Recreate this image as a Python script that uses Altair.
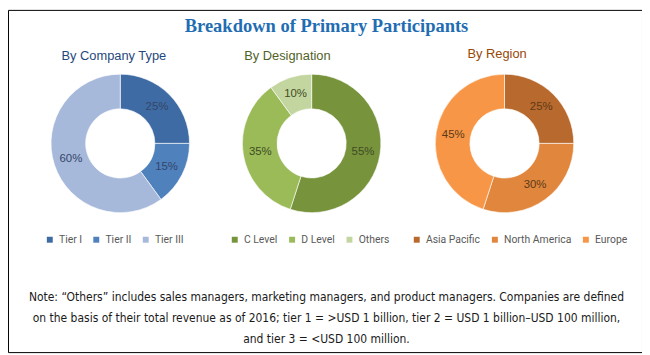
import altair as alt
import pandas as pd

# ---- data ----
title_text = "Breakdown of Primary Participants"

company_title = "By Company Type"
company_labels = ["Tier I", "Tier II", "Tier III"]
company_values = [25, 15, 60]
company_colors = ["#3E6BA3", "#4F81BD", "#A7B9DA"]

designation_title = "By Designation"
designation_labels = ["C Level", "D Level", "Others"]
designation_values = [55, 35, 10]
designation_colors = ["#77933C", "#9BBB59", "#C4D69F"]

region_title = "By Region"
region_labels = ["Asia Pacific", "North America", "Europe"]
region_values = [25, 30, 45]
region_colors = ["#B8692E", "#E0873D", "#F79646"]

note_lines = [
    "Note: \u201cOthers\u201d includes sales managers, marketing managers, and product managers. Companies are defined",
    "on the basis of their total revenue as of 2016; tier 1 = >USD 1 billion, tier 2 = USD 1 billion\u2013USD 100 million,",
    "and tier 3 = <USD 100 million.",
]

W, H = 641, 346
FONT = "Liberation Sans"


def donut(labels, values, colors, field, cx, cy, label_color, lx, ly):
    df = pd.DataFrame({
        field: labels,
        "value": values,
        "order": list(range(len(labels))),
        "pct": [f"{v}%" for v in values],
    })
    base = alt.Chart(df).encode(
        theta=alt.Theta("value:Q", stack=True),
        order=alt.Order("order:Q"),
    )
    arc = base.mark_arc(innerRadius=35, outerRadius=70, stroke="white", strokeWidth=0.6).encode(
        x=alt.value(cx),
        y=alt.value(cy),
        color=alt.Color(
            f"{field}:N",
            scale=alt.Scale(domain=labels, range=colors),
            sort=labels,
            legend=alt.Legend(
                orient="none", legendX=lx, legendY=ly, direction="horizontal",
                title=None, symbolType="square", symbolSize=36, symbolStrokeWidth=0,
                labelFontSize=10.5, labelFont="Roboto", labelColor="#595959",
                columnPadding=9, labelOffset=4, padding=0,
            ),
        ),
    )
    text = base.mark_text(radius=52.5, fontSize=11.5, font=FONT, color=label_color).encode(
        x=alt.value(cx), y=alt.value(cy), text="pct:N"
    )
    return arc + text


def label(txt, x, y, size, color, font=FONT, weight="normal"):
    return alt.Chart(pd.DataFrame({"t": [txt]})).mark_text(
        fontSize=size, color=color, font=font, fontWeight=weight, align="center", baseline="middle"
    ).encode(text="t:N", x=alt.value(x), y=alt.value(y))


d1 = donut(company_labels, company_values, company_colors, "Company", 113.5, 135, "#34466A", 37, 227)
d2 = donut(designation_labels, designation_values, designation_colors, "Designation", 307, 135, "#3F4C24", 224, 227)
d3 = donut(region_labels, region_values, region_colors, "Region", 502, 135, "#5E3A18", 408, 227)

t0 = label(title_text, 322, 16, 18.7, "#1F6DB2", font="Liberation Serif", weight="bold")
t1 = label(company_title, 107, 47, 13, "#1F497D")
t2 = label(designation_title, 282.5, 47, 13, "#4F6228")
t3 = label(region_title, 494.5, 45, 13, "#984807")

note = alt.Chart(pd.DataFrame({"t": [0]})).mark_text(
    fontSize=12.1, font="DejaVu Sans Condensed, Roboto", color="#1a1a1a", align="center",
    baseline="middle", lineHeight=21.5,
).encode(text=alt.value(note_lines), x=alt.value(322), y=alt.value(290))

chart = alt.layer(d1, d2, d3, t0, t1, t2, t3, note).resolve_scale(
    color="independent"
).properties(
    width=W, height=H, padding=0, autosize=alt.AutoSizeParams(type="none")
).configure_view(stroke="black", strokeWidth=1)

chart.save("out.html", embed_options={"renderer": "svg", "actions": False})
